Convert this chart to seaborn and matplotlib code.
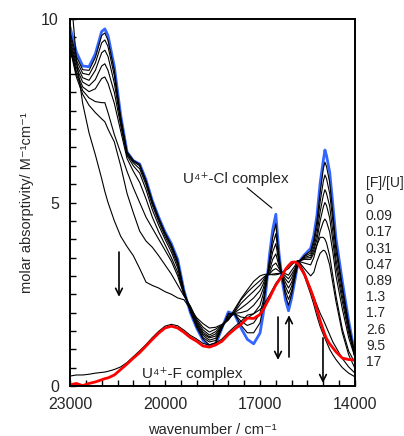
import pandas as pd
import matplotlib
matplotlib.use('Agg')
import matplotlib.pyplot as plt
from matplotlib.ticker import MultipleLocator
import seaborn as sns

# wavenumber grid (cm-1) shared by all spectra
wavenumber = [23000, 22800, 22600, 22400, 22200, 22000, 21900, 21800,
              21600, 21400, 21200, 21000, 20800, 20600, 20400, 20200, 20000,
              19800, 19600, 19400, 19200, 19000, 18800, 18600, 18400, 18200, 18000,
              17800, 17600, 17400, 17200, 17000, 16900, 16800, 16700, 16600, 16500,
              16400, 16300, 16200, 16100, 16000, 15900, 15800, 15600, 15400, 15300,
              15200, 15100, 15000, 14950, 14900, 14800, 14700, 14600, 14400, 14200, 14000]

ratios = ['0', '0.09', '0.17', '0.31', '0.47', '0.89', '1.3', '1.7', '2.6', '9.5', '17']

eps_0 = [9.78, 9.10, 8.72, 8.70, 9.05, 9.66, 9.73, 9.55,
         8.70, 7.38, 6.38, 6.14, 6.05, 5.62, 5.05, 4.60, 4.20,
         3.88, 3.45, 2.60, 2.00, 1.58, 1.25, 1.07, 1.13, 1.58, 2.02,
         1.95, 1.58, 1.27, 1.15, 1.44, 1.95, 2.70, 3.57, 4.25, 4.68,
         3.62, 2.88, 2.36, 2.05, 2.40, 2.87, 3.35, 3.57, 3.75, 4.10,
         4.66, 5.53, 6.15, 6.43, 6.28, 5.83, 4.95, 4.02, 2.85, 1.78, 0.84]
eps_009 = [9.65, 8.98, 8.62, 8.60, 8.95, 9.55, 9.62, 9.42,
           8.60, 7.33, 6.38, 6.15, 6.04, 5.60, 5.04, 4.58, 4.18,
           3.85, 3.42, 2.58, 2.02, 1.60, 1.28, 1.12, 1.18, 1.58, 1.98,
           1.95, 1.66, 1.45, 1.45, 1.72, 2.15, 2.78, 3.45, 4.05, 4.42,
           3.55, 2.93, 2.48, 2.20, 2.50, 2.93, 3.35, 3.55, 3.68, 3.98,
           4.50, 5.28, 5.92, 6.10, 5.98, 5.55, 4.72, 3.85, 2.72, 1.70, 0.84]
eps_017 = [9.55, 8.88, 8.52, 8.48, 8.80, 9.35, 9.43, 9.25,
           8.45, 7.28, 6.36, 6.12, 6.00, 5.56, 5.00, 4.55, 4.15,
           3.80, 3.37, 2.57, 2.05, 1.63, 1.32, 1.20, 1.24, 1.58, 1.94,
           1.96, 1.76, 1.65, 1.72, 1.97, 2.32, 2.85, 3.35, 3.85, 4.15,
           3.45, 2.97, 2.60, 2.36, 2.60, 2.98, 3.36, 3.53, 3.62, 3.88,
           4.33, 5.02, 5.58, 5.75, 5.65, 5.25, 4.50, 3.68, 2.60, 1.62, 0.83]
eps_031 = [9.45, 8.78, 8.40, 8.33, 8.60, 9.08, 9.15, 8.98,
           8.25, 7.20, 6.32, 6.08, 5.92, 5.48, 4.92, 4.48, 4.08,
           3.74, 3.30, 2.55, 2.08, 1.67, 1.38, 1.25, 1.30, 1.60, 1.90,
           1.97, 1.88, 1.85, 1.97, 2.20, 2.50, 2.92, 3.25, 3.65, 3.88,
           3.35, 3.00, 2.72, 2.52, 2.72, 3.04, 3.37, 3.50, 3.56, 3.78,
           4.15, 4.75, 5.20, 5.35, 5.25, 4.90, 4.20, 3.45, 2.45, 1.55, 0.82]
eps_047 = [9.38, 8.68, 8.28, 8.18, 8.35, 8.72, 8.78, 8.60,
           8.00, 7.10, 6.28, 6.00, 5.80, 5.35, 4.80, 4.38, 4.00,
           3.65, 3.22, 2.52, 2.10, 1.70, 1.42, 1.31, 1.36, 1.62, 1.86,
           1.98, 2.00, 2.05, 2.20, 2.42, 2.65, 2.97, 3.15, 3.45, 3.60,
           3.27, 3.03, 2.83, 2.67, 2.83, 3.10, 3.38, 3.48, 3.50, 3.70,
           4.00, 4.50, 4.88, 5.00, 4.92, 4.58, 3.95, 3.25, 2.30, 1.45, 0.80]
eps_089 = [9.30, 8.58, 8.15, 8.02, 8.10, 8.38, 8.42, 8.25,
           7.70, 6.95, 6.20, 5.85, 5.55, 5.10, 4.60, 4.20, 3.85,
           3.50, 3.10, 2.50, 2.13, 1.74, 1.47, 1.34, 1.42, 1.63, 1.82,
           2.00, 2.12, 2.25, 2.40, 2.60, 2.78, 3.00, 3.08, 3.28, 3.35,
           3.20, 3.06, 2.92, 2.81, 2.95, 3.15, 3.39, 3.45, 3.45, 3.62,
           3.85, 4.22, 4.48, 4.55, 4.48, 4.20, 3.65, 3.00, 2.10, 1.32, 0.78]
eps_13 = [9.25, 8.50, 8.05, 7.85, 7.75, 7.72, 7.72, 7.45,
          6.85, 6.35, 5.85, 5.40, 5.00, 4.60, 4.30, 4.00, 3.70,
          3.40, 3.00, 2.48, 2.16, 1.78, 1.53, 1.39, 1.48, 1.65, 1.80,
          2.02, 2.25, 2.42, 2.58, 2.75, 2.88, 3.02, 3.05, 3.15, 3.20,
          3.13, 3.08, 3.00, 2.92, 3.05, 3.20, 3.40, 3.35, 3.30, 3.50,
          3.85, 4.05, 4.05, 4.00, 3.90, 3.55, 3.00, 2.45, 1.55, 0.95, 0.63]
eps_17 = [9.20, 8.42, 7.95, 7.65, 7.45, 7.28, 7.20, 7.00,
          6.65, 6.00, 5.25, 4.72, 4.22, 3.95, 3.78, 3.55, 3.30,
          3.05, 2.75, 2.45, 2.18, 1.82, 1.60, 1.47, 1.55, 1.66, 1.80,
          2.05, 2.35, 2.55, 2.72, 2.87, 2.95, 3.02, 3.03, 3.05, 3.06,
          3.07, 3.10, 3.06, 3.02, 3.15, 3.27, 3.42, 3.20, 3.00, 3.10,
          3.40, 3.62, 3.70, 3.68, 3.60, 3.30, 2.80, 2.30, 1.45, 0.85, 0.48]
eps_26 = [11.0, 8.90, 7.70, 6.90, 6.30, 5.65, 5.30, 5.00,
          4.50, 4.08, 3.80, 3.55, 3.20, 2.83, 2.74, 2.67, 2.57,
          2.50, 2.40, 2.35, 2.10, 1.86, 1.70, 1.58, 1.60, 1.68, 1.82,
          2.10, 2.38, 2.62, 2.85, 3.00, 3.03, 3.05, 3.04, 3.03, 3.03,
          3.05, 3.10, 3.15, 3.20, 3.30, 3.38, 3.42, 3.10, 2.65, 2.42,
          2.20, 1.98, 1.80, 1.70, 1.60, 1.40, 1.20, 1.05, 0.75, 0.52, 0.35]
eps_95 = [0.27, 0.30, 0.30, 0.32, 0.35, 0.37, 0.38, 0.40,
          0.45, 0.52, 0.64, 0.80, 0.96, 1.13, 1.32, 1.49, 1.63,
          1.68, 1.64, 1.52, 1.38, 1.28, 1.16, 1.12, 1.17, 1.28, 1.46,
          1.62, 1.76, 1.93, 1.97, 2.08, 2.18, 2.33, 2.48, 2.64, 2.80,
          2.92, 3.05, 3.18, 3.28, 3.35, 3.38, 3.35, 3.00, 2.50, 2.22,
          1.90, 1.62, 1.40, 1.30, 1.20, 1.00, 0.85, 0.72, 0.50, 0.35, 0.25]
eps_F = [0.03, 0.07, 0.01, 0.07, 0.11, 0.17, 0.20, 0.22,
         0.30, 0.45, 0.60, 0.76, 0.91, 1.09, 1.27, 1.44, 1.58,
         1.63, 1.58, 1.46, 1.32, 1.22, 1.09, 1.06, 1.12, 1.22, 1.40,
         1.55, 1.68, 1.85, 1.84, 1.95, 2.07, 2.24, 2.40, 2.58, 2.75,
         2.88, 3.00, 3.17, 3.28, 3.37, 3.38, 3.33, 3.05, 2.62, 2.38,
         2.07, 1.78, 1.52, 1.40, 1.29, 1.15, 1.04, 0.93, 0.76, 0.72, 0.71]

spectra = pd.DataFrame(dict(zip(ratios, [eps_0, eps_009, eps_017, eps_031, eps_047, eps_089,
                                         eps_13, eps_17, eps_26, eps_95, eps_F])))
spectra['wn'] = wavenumber
df = spectra.melt(id_vars='wn', var_name='ratio', value_name='eps')

sns.set_style('ticks')
plt.rcParams['font.family'] = ['Liberation Sans', 'DejaVu Sans']

palette = {r: 'black' for r in ratios}
palette['0'] = '#3366ff'
palette['17'] = '#ff0000'
sizes = {r: 0.8 for r in ratios}
sizes['0'] = 2.0
sizes['17'] = 2.0

fig = plt.figure(figsize=(4.04, 4.36), dpi=100)
ax = fig.add_axes([0.1733, 0.1147, 0.7054, 0.8417])
sns.lineplot(data=df, x='wn', y='eps', hue='ratio', size='ratio', hue_order=ratios,
             size_order=ratios, palette=palette, sizes=sizes, estimator=None,
             sort=False, legend=False, ax=ax)

ax.set_xlim(23000, 14000)
ax.set_ylim(0, 10)
ax.set_xticks([23000, 20000, 17000, 14000])
ax.set_yticks([0, 5, 10])
ax.xaxis.set_minor_locator(MultipleLocator(500))
ax.yaxis.set_minor_locator(MultipleLocator(0.5))
ax.tick_params(which='both', direction='in', length=4, width=1, color='black',
               labelsize=11.5, pad=8)
for s in ax.spines.values():
    s.set_linewidth(1.4)
    s.set_color('black')
ax.set_xlabel('wavenumber / cm⁻¹', fontsize=10.5, labelpad=8)
ax.set_ylabel('molar absorptivity/ M⁻¹cm⁻¹', fontsize=10.5, labelpad=5)

ax.text(19431, 5.53, 'U⁴⁺-Cl complex', fontsize=11, ha='left', va='baseline')
ax.annotate('', xy=(16558, 4.80), xytext=(17474, 5.45),
            arrowprops=dict(arrowstyle='-', lw=0.8, color='black'))
ax.text(20726, 0.22, 'U⁴⁺-F complex', fontsize=11, ha='left', va='baseline')

for x, y0, y1 in [(21453, 3.65, 2.43), (16431, 1.88, 0.71),
                  (16084, 0.79, 1.93), (15011, 1.31, 0.08)]:
    ax.annotate('', xy=(x, y1), xytext=(x, y0),
                arrowprops=dict(arrowstyle='->', lw=1.2, color='black',
                                mutation_scale=12, shrinkA=0, shrinkB=0))

fig.text(366 / 404, 1 - 183 / 436, '[F]/[U]', fontsize=10, ha='left', va='center')
for i, r in enumerate(ratios):
    fig.text(366 / 404, 1 - (200 + 16.2 * i) / 436, r, fontsize=10, ha='left', va='center')

fig.savefig('out.png', dpi=100)
